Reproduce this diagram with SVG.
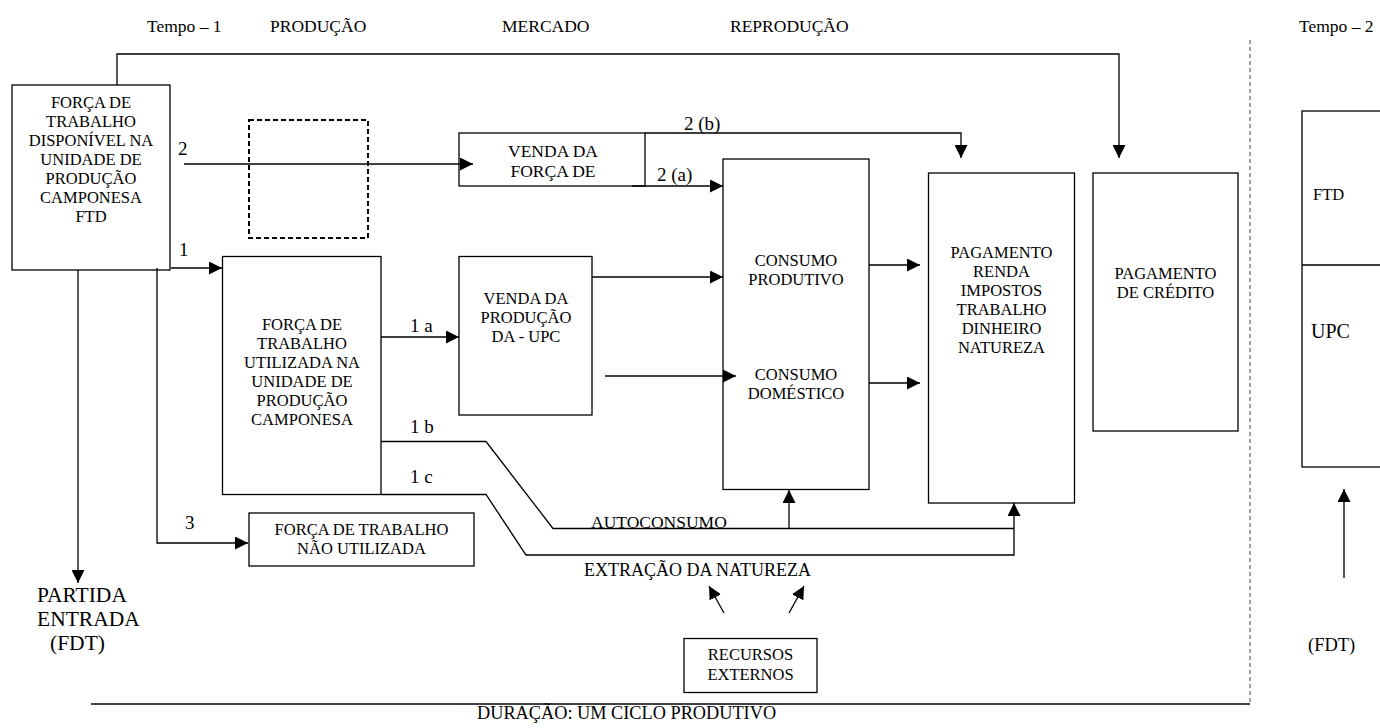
<svg xmlns="http://www.w3.org/2000/svg" width="1380" height="728" viewBox="0 0 1380 728" font-family="'Liberation Serif', 'Times New Roman', 'DejaVu Serif', serif">
<defs>
<marker id="ah" markerUnits="userSpaceOnUse" markerWidth="14" markerHeight="13" refX="13" refY="6.5" orient="auto">
<path d="M0,0 L13,6.5 L0,13 z" fill="#000"/>
</marker>
<style>
text{font-family:'Liberation Serif','Times New Roman','DejaVu Serif',serif;fill:#000}
.b{font-size:16.5px;text-anchor:middle}
.l{font-size:19px}
.h{font-size:17.5px}
.box{fill:#fff;stroke:#000;stroke-width:1.3}
.c{fill:none;stroke:#000;stroke-width:1.3}
.a{marker-end:url(#ah)}
</style>
</defs>
<rect width="1380" height="728" fill="#fff"/>

<g id="header">
<text class="h" x="147" y="32">Tempo – 1</text>
<text class="h" x="270" y="32">PRODUÇÃO</text>
<text class="h" x="502" y="32">MERCADO</text>
<text class="h" x="730" y="32">REPRODUÇÃO</text>
<text class="h" x="1299" y="32">Tempo – 2</text>
</g>

<g id="ftd">
<rect class="box" x="12" y="85" width="158" height="185"/>
<text class="b" x="91" y="108">FORÇA DE</text>
<text class="b" x="91" y="127">TRABALHO</text>
<text class="b" x="91" y="146">DISPONÍVEL NA</text>
<text class="b" x="91" y="165">UNIDADE DE</text>
<text class="b" x="91" y="184">PRODUÇÃO</text>
<text class="b" x="91" y="203">CAMPONESA</text>
<text class="b" x="91" y="222">FTD</text>
</g>

<g id="dashed">
<rect x="249" y="120" width="119" height="118" fill="none" stroke="#000" stroke-width="2" stroke-dasharray="5,3"/>
</g>

<g id="venda-forca">
<rect class="box" x="459" y="133" width="186" height="53"/>
<text class="b" style="font-size:17.5px" x="553" y="157">VENDA DA</text>
<text class="b" style="font-size:17.5px" x="553" y="177">FORÇA DE</text>
</g>

<g id="ft-utilizada">
<rect class="box" x="222.5" y="256.5" width="158.5" height="238"/>
<text class="b" x="302" y="330">FORÇA DE</text>
<text class="b" x="302" y="349">TRABALHO</text>
<text class="b" x="302" y="368">UTILIZADA NA</text>
<text class="b" x="302" y="387">UNIDADE DE</text>
<text class="b" x="302" y="406">PRODUÇÃO</text>
<text class="b" x="302" y="425">CAMPONESA</text>
</g>

<g id="venda-producao">
<rect class="box" x="459" y="256.5" width="133" height="158.5"/>
<text class="b" x="526" y="304">VENDA DA</text>
<text class="b" x="526" y="323">PRODUÇÃO</text>
<text class="b" x="526" y="342">DA - UPC</text>
</g>

<g id="consumo">
<rect class="box" x="723" y="159" width="146" height="330.5"/>
<text class="b" x="796" y="266">CONSUMO</text>
<text class="b" x="796" y="285">PRODUTIVO</text>
<text class="b" x="796" y="380">CONSUMO</text>
<text class="b" x="796" y="399">DOMÉSTICO</text>
</g>

<g id="pagamento-renda">
<rect class="box" x="928.5" y="173" width="146" height="330"/>
<text class="b" x="1001.5" y="258">PAGAMENTO</text>
<text class="b" x="1001.5" y="277">RENDA</text>
<text class="b" x="1001.5" y="296">IMPOSTOS</text>
<text class="b" x="1001.5" y="315">TRABALHO</text>
<text class="b" x="1001.5" y="334">DINHEIRO</text>
<text class="b" x="1001.5" y="353">NATUREZA</text>
</g>

<g id="pagamento-credito">
<rect class="box" x="1093" y="173" width="145" height="258"/>
<text class="b" x="1165.5" y="279">PAGAMENTO</text>
<text class="b" x="1165.5" y="298">DE CRÉDITO</text>
</g>

<g id="ft-nao-utilizada">
<rect class="box" x="249" y="513" width="225" height="53"/>
<text class="b" x="361.5" y="535">FORÇA DE TRABALHO</text>
<text class="b" x="361.5" y="554">NÃO UTILIZADA</text>
</g>

<g id="recursos">
<rect class="box" x="684" y="638.5" width="133" height="54"/>
<text class="b" x="750.5" y="660">RECURSOS</text>
<text class="b" x="750.5" y="680">EXTERNOS</text>
</g>

<g id="partida">
<text style="font-size:21.5px" x="37" y="602">PARTIDA</text>
<text style="font-size:21.5px" x="37" y="626">ENTRADA</text>
<text style="font-size:21.5px" x="50" y="650">(FDT)</text>
</g>

<g id="tempo2">
<rect class="box" x="1302" y="111" width="100" height="356"/>
<line class="c" x1="1302" y1="265" x2="1380" y2="265"/>
<text style="font-size:16.5px" x="1313" y="200">FTD</text>
<text style="font-size:20px" x="1311" y="338">UPC</text>
<text style="font-size:18.5px" x="1308" y="651">(FDT)</text>
</g>

<g id="connectors">
<polyline class="c a" points="117,85 117,54 1119,54 1119,158"/>
<line class="c a" x1="184" y1="164" x2="473" y2="164"/>
<polyline class="c a" points="645,133 961,133 961,158"/>
<line class="c a" x1="632" y1="186" x2="723" y2="186"/>
<line class="c a" x1="171" y1="268" x2="222" y2="268"/>
<polyline class="c a" points="157,268 157,543 248,543"/>
<line class="c a" x1="78" y1="270" x2="78" y2="583"/>
<line class="c a" x1="381" y1="337" x2="459" y2="337"/>
<line class="c a" x1="592" y1="277" x2="723" y2="277"/>
<line class="c a" x1="605" y1="376" x2="736" y2="376"/>
<line class="c a" x1="869" y1="265" x2="920" y2="265"/>
<line class="c a" x1="869" y1="383" x2="920" y2="383"/>
<polyline class="c" points="381,441.5 486,441.5 553,528.5 1014,528.5"/>
<line class="c a" x1="789" y1="528.5" x2="789" y2="490"/>
<polyline class="c a" points="381,494.5 486,494.5 526,555 1014,555 1014,503"/>
<line class="c a" x1="724" y1="613" x2="709" y2="586"/>
<line class="c a" x1="789" y1="613" x2="804" y2="586"/>
<line class="c a" x1="1344" y1="578" x2="1344" y2="489"/>
<line class="c" x1="91" y1="704" x2="1250" y2="704"/>
<line x1="1250" y1="40" x2="1250" y2="702" stroke="#444" stroke-width="1" stroke-dasharray="4,3"/>
</g>

<g id="labels">
<text class="l" x="178" y="155">2</text>
<text class="l" x="179" y="256">1</text>
<text class="l" x="185" y="529">3</text>
<text class="l" x="410" y="332">1 a</text>
<text class="l" x="410" y="433">1 b</text>
<text class="l" x="410" y="483">1 c</text>
<text class="l" x="684" y="130">2 (b)</text>
<text class="l" x="657" y="181">2 (a)</text>
<text style="font-size:17.5px" x="591" y="528">AUTOCONSUMO</text>
<text style="font-size:18px" x="584" y="576">EXTRAÇÃO DA NATUREZA</text>
<text style="font-size:18.3px" x="477" y="719">DURAÇÃO: UM CICLO PRODUTIVO</text>
</g>
</svg>
